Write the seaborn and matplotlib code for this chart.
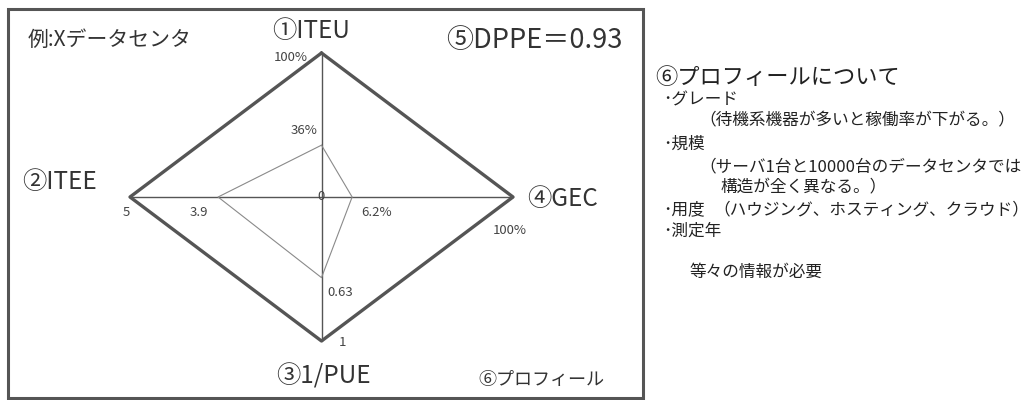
import matplotlib
matplotlib.use('Agg')
import matplotlib.pyplot as plt
import numpy as np
import pandas as pd
import seaborn as sns
from matplotlib.patches import Rectangle

sns.set_theme(style='white')
plt.rcParams['font.family'] = ['Noto Sans CJK JP', 'DejaVu Sans']

# ── data ────────────────────────────────────────────────────
axis_names   = ['①ITEU', '②ITEE', '③1/PUE', '④GEC']
dir_x        = [0, -1, 0, 1]          # up, left, down, right
dir_y        = [1, 0, -1, 0]
max_labels   = ['100%', '5', '1', '100%']
value_labels = ['36%', '3.9', '0.63', '6.2%']
radius       = [0.36, 0.54, 0.56, 0.16]   # as drawn (fraction of axis length)

title_text   = '例:Xデータセンタ'
dppe_text    = '⑤DPPE＝0.93'
profile_text = '⑥プロフィール'
notes_title  = '⑥プロフィールについて'
# (text, x px, y px) for the notes on the right
notes_lines  = ['･グレード',
                '（待機系機器が多いと稼働率が下がる。）',
                '･規模',
                '（サーバ1台と10000台のデータセンタでは',
                '構造が全く異なる。）',
                '･用度',
                '（ハウジング、ホスティング、クラウド）',
                '･測定年']
notes_x      = [663, 699, 663, 699, 720, 663, 713, 663]
notes_y      = [100, 121, 144, 167, 188, 210, 210, 231]
notes_footer = '等々の情報が必要'

W, H = 1031, 400
fig = plt.figure(figsize=(W / 100, H / 100), dpi=100)

# overlay in pixel coords for frame + free text
over = fig.add_axes([0, 0, 1, 1])
over.set_xlim(0, W); over.set_ylim(H, 0); over.axis('off')
over.add_patch(Rectangle((8, 9), 635, 389, fill=False, edgecolor='#555555', lw=2.2))

# diamond axes: x unit = 191.5 px, y unit = 144 px, centre (321, 197)
ax = fig.add_axes([130 / W, (H - 341) / H, 383 / W, 288 / H])
ax.set_xlim(-1, 1); ax.set_ylim(-1, 1); ax.axis('off')

# outer diamond
outer = pd.DataFrame({'x': dir_x + dir_x[:1], 'y': dir_y + dir_y[:1]})
sns.lineplot(data=outer, x='x', y='y', sort=False, estimator=None,
             color='#555555', lw=2.4, ax=ax, clip_on=False)

# cross axes
for i in range(2):
    ax.plot([dir_x[i], dir_x[i + 2]], [dir_y[i], dir_y[i + 2]],
            color='#555555', lw=1.0, clip_on=False)

# data polygon
px = [r * d for r, d in zip(radius, dir_x)]
py = [r * d for r, d in zip(radius, dir_y)]
poly = pd.DataFrame({'x': px + px[:1], 'y': py + py[:1]})
sns.lineplot(data=poly, x='x', y='y', sort=False, estimator=None,
             color='#8a8a8a', lw=0.8, ax=ax, clip_on=False)

small = dict(fontsize=9.5, color='#444444')
ax.text(0, 0, '0', ha='center', va='center', **small)

# value labels next to the data points
val_off = [(-0.02, 0.06, 'right', 'bottom'), (-0.05, -0.06, 'right', 'top'),
           (0.03, -0.06, 'left', 'top'), (0.05, -0.06, 'left', 'top')]
for i in range(4):
    dx, dy, ha, va = val_off[i]
    ax.text(px[i] + dx, py[i] + dy, value_labels[i], ha=ha, va=va, **small)

# max labels at the vertices
max_off = [(-0.07, -0.03, 'right', 'center'), (-0.02, -0.06, 'center', 'top'),
           (0.11, -0.01, 'center', 'center'), (-0.015, -0.23, 'center', 'center')]
for i in range(4):
    dx, dy, ha, va = max_off[i]
    ax.text(dir_x[i] + dx, dir_y[i] + dy, max_labels[i], ha=ha, va=va, **small)

# axis names
big = dict(fontsize=17.5, color='#333333')
over.text(311, 31, axis_names[0], ha='center', va='center', **big)
over.text(22, 182, axis_names[1], ha='left', va='center', **big)
over.text(323, 377, axis_names[2], ha='center', va='center', **big)
over.text(527, 199, axis_names[3], ha='left', va='center', **big)

over.text(28, 40, title_text, ha='left', va='center', fontsize=15, color='#333333')
over.text(622, 40, dppe_text, ha='right', va='center', fontsize=19.5, color='#333333')
over.text(604, 380, profile_text, ha='right', va='center', fontsize=13, color='#333333')

# right hand notes
over.text(655, 77, notes_title, ha='left', va='center', fontsize=16, color='#222222')
for x, y, line in zip(notes_x, notes_y, notes_lines):
    over.text(x, y, line, ha='left', va='center', fontsize=12, color='#222222')
over.text(690, 272, notes_footer, ha='left', va='center', fontsize=12, color='#222222')

fig.savefig('out.png', dpi=100)
